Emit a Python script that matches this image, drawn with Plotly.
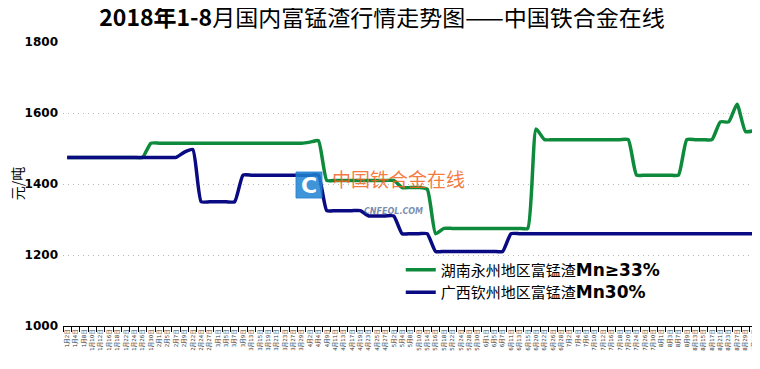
import plotly.graph_objects as go

months_days = [
    (1, [2, 4, 8, 10, 12, 16, 18, 22, 24, 26, 30]),
    (2, [1, 5, 7, 9, 22, 24, 27]),
    (3, [1, 5, 7, 9, 13, 15, 19, 21, 23, 27, 29]),
    (4, [2, 4, 9, 11, 13, 17, 19, 23, 25, 27]),
    (5, [2, 4, 8, 10, 14, 16, 18, 22, 24, 28, 30]),
    (6, [1, 5, 7, 11, 13, 15, 20, 22, 26, 28]),
    (7, [2, 4, 6, 10, 12, 16, 18, 20, 24, 26, 30]),
    (8, [1, 3, 7, 9, 13, 15, 17, 21, 23, 27, 29, 31]),
]
dates = [f"{m}月{d}日" for m, ds in months_days for d in ds]

hunan = ([1475] * 10 + [1515] * 19 + [1518, 1522]
         + [1410] * 9 + [1390, 1390, 1390, 1385] + [1260] + [1275] * 11
         + [1555] + [1525] * 11 + [1425] * 6 + [1525] * 4
         + [1575, 1575] + [1625, 1548] + [1550])

guangxi = ([1475] * 14 + [1490, 1497] + [1350] * 5 + [1425] * 10
           + [1325] * 5 + [1310] * 4 + [1260] * 4 + [1210] * 9
           + [1260] * 30)

n = len(dates)
hunan = (hunan + [hunan[-1]] * n)[:n]
guangxi = (guangxi + [guangxi[-1]] * n)[:n]

name_hunan = "湖南永州地区富锰渣<span style='font-size:17px'><b>Mn≥33%</b></span>"
name_guangxi = "广西钦州地区富锰渣<span style='font-size:17px'><b>Mn30%</b></span>"

font_main = "DejaVu Sans, Noto Sans CJK SC, sans-serif"

W, H = 752, 361  # page body has an 8px margin

fig = go.Figure()
fig.add_trace(go.Scatter(x=dates, y=hunan, mode="lines", name=name_hunan,
                         line=dict(color="#0e8a3c", width=3.5, shape="spline", smoothing=0.5)))
fig.add_trace(go.Scatter(x=dates, y=guangxi, mode="lines", name=name_guangxi,
                         line=dict(color="#0a0a82", width=3.5, shape="spline", smoothing=0.5)))

fig.update_layout(
    width=W, height=H,
    margin=dict(l=55, r=2, t=34, b=43),
    paper_bgcolor="white", plot_bgcolor="white",
    font=dict(family=font_main, color="#000"),
    title=dict(text="<b>2018年1-8</b>月国内富锰渣行情走势图——中国铁合金在线",
               x=374 / W, xanchor="center", y=1 - 10 / H, yanchor="middle",
               font=dict(size=23, family="Liberation Sans Narrow, Noto Sans CJK SC, sans-serif", color="#000")),
    showlegend=True,
    legend=dict(x=0.486, y=0.255, xanchor="left", yanchor="top",
                bgcolor="rgba(0,0,0,0)", itemwidth=30,
                font=dict(size=15, family=font_main, color="#000"),
                tracegroupgap=0),
    xaxis=dict(type="category", tickangle=-90, tickson="boundaries",
               ticks="outside", ticklen=5, tickcolor="#000", tickwidth=1,
               showline=True, linecolor="#000", linewidth=1, automargin=False,
               showgrid=False, tickfont=dict(size=5.5, color="#333"),
               range=[-0.5, n - 0.5], fixedrange=True),
    yaxis=dict(range=[1000, 1800], tickvals=[1000, 1200, 1400, 1600, 1800],
               ticktext=["<b>1000</b>", "<b>1200</b>", "<b>1400</b>", "<b>1600</b>", "<b>1800</b>"],
               showgrid=True, gridcolor="#b8b8b8", griddash="1px,4px", gridwidth=1.2,
               zeroline=False, showline=False, ticks="", ticklabelstandoff=4,
               automargin=False,
               tickfont=dict(size=12, family=font_main, color="#000")),
)

fig.add_annotation(text="元/吨", xref="paper", yref="paper", textangle=-90,
                   x=(17 - 63) / 695, y=0.503, xanchor="center", yanchor="middle", showarrow=False,
                   font=dict(size=14, family="Noto Sans CJK SC, sans-serif", color="#000"))

# watermark
fig.add_shape(type="rect", xref="paper", yref="paper",
              x0=(296 - 63) / 695, x1=(322 - 63) / 695,
              y0=(326 - 198) / 284, y1=(326 - 172) / 284,
              fillcolor="rgba(30,130,210,0.85)", line=dict(color="rgba(30,130,210,0.85)", width=1),
              layer="above")
fig.add_annotation(text="<b>C</b>", xref="paper", yref="paper",
                   x=(309 - 63) / 695, y=(326 - 185) / 284, showarrow=False,
                   font=dict(size=22, color="white", family="DejaVu Sans"))
fig.add_annotation(text="中国铁合金在线", xref="paper", yref="paper",
                   x=(330 - 63) / 695, y=(326 - 178) / 284, xanchor="left", showarrow=False,
                   font=dict(size=19, color="rgba(242,100,30,0.85)", family="Noto Sans CJK SC"))
fig.add_annotation(text="<b><i>CNFEOL.COM</i></b>", xref="paper", yref="paper",
                   x=(393 - 63) / 695, y=(326 - 211) / 284, showarrow=False,
                   font=dict(size=8, color="rgba(60,90,140,0.7)", family="DejaVu Sans"))

fig.write_html("out.html")
